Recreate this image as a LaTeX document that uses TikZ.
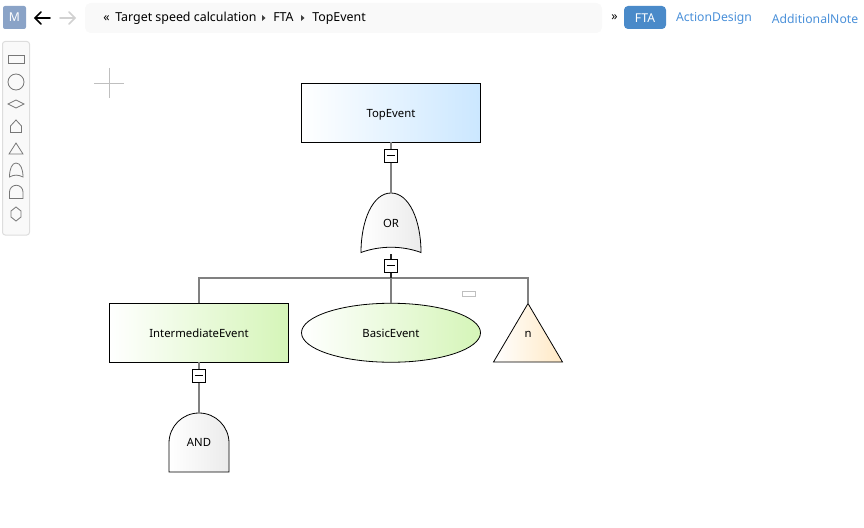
\documentclass[tikz,border=0pt]{standalone}
\usepackage{fontspec}
\setmainfont{Noto Sans}
\usetikzlibrary{calc}
\definecolor{linegray}{HTML}{808080}
\definecolor{iconline}{HTML}{777777}
\definecolor{panelbg}{HTML}{F9F9F9}
\definecolor{panelline}{HTML}{DDDDDD}
\definecolor{btnblue}{HTML}{4A8AC9}
\definecolor{linkblue}{HTML}{4A90D9}
\definecolor{mbtn}{HTML}{8AA3C7}
\definecolor{topfill}{HTML}{CBE7FF}
\definecolor{greenfill}{HTML}{D5F5B8}
\definecolor{orangefill}{HTML}{FFE8C4}
\definecolor{grayfill}{HTML}{EBEBEB}
\tikzset{
  x=0.75pt,y=-0.75pt,
  label text/.style={font=\fontsize{8.5pt}{11pt}\selectfont,text=black,inner sep=0pt,outer sep=0pt,text height=6.6pt,text depth=0pt},
  eventbox/.style={label text,draw=black,line width=0.75pt,minimum width=134.5pt,minimum height=44pt},
  topshade/.style={left color=white,right color=topfill},
  greenshade/.style={left color=white,right color=greenfill},
  gateshape/.style={draw=black,line width=0.6pt,left color=white,right color=grayfill},
  ghost/.style={label text,minimum width=45pt,minimum height=44.5pt},
  conn/.style={draw=linegray,line width=1.5pt},
  darkconn/.style={draw=black!85,line width=1.5pt},
  minusbox/.style={draw=black,fill=white,line width=0.75pt,minimum size=9.75pt,inner sep=0pt,
    path picture={\draw[black,line width=0.75pt] ($(path picture bounding box.west)+(1.6pt,0)$) -- ($(path picture bounding box.east)+(-1.6pt,0)$);}},
  icon/.style={draw=iconline,line width=0.6pt},
  crumb/.style={font=\fontsize{9.3pt}{12pt}\selectfont,text=black,inner sep=0pt,anchor=base west},
  tab/.style={font=\fontsize{9.15pt}{12pt}\selectfont,inner sep=0pt},
}
\begin{document}
\begin{tikzpicture}
\useasboundingbox (0,0) rectangle (864,528);
% header
\fill[mbtn,rounded corners=1.5pt] (3,6) rectangle (26,29);
\node[tab,text=white] (mlabel) at (14.5,17.5) {M};
\draw[black,line width=1.3pt,line cap=round] (35,18) -- (50,18) (41,12) -- (35,18) -- (41,24);
\draw[black!18,line width=1.3pt,line cap=round] (60,18) -- (75,18) (69,12) -- (75,18) -- (69,24);
\fill[panelbg,rounded corners=4pt] (85,3) rectangle (602,33);
\node[crumb] (c0) at (103,22) {«};
\node[crumb] (c1) at (115,22) {Target speed calculation};
\fill[black!75] (262,15) -- (265.5,18) -- (262,21) -- cycle;
\node[crumb] (c2) at (273,22) {FTA};
\fill[black!75] (301,15) -- (304.5,18) -- (301,21) -- cycle;
\node[crumb] (c3) at (312,22) {TopEvent};
\node[crumb] (c4) at (611,21) {»};
\fill[btnblue,rounded corners=3pt] (624,6) rectangle (666,29);
\node[tab,text=white] (tfta) at (645,18.5) {FTA};
\node[tab,text=linkblue] (tad) at (714,18.5) {ActionDesign};
\node[tab,text=linkblue] (tan) at (815,18.5) {AdditionalNote};
% palette
\draw[panelline,fill=panelbg,rounded corners=2pt,line width=0.75pt] (2.5,41.5) rectangle (29.5,235);
\draw[icon] (8,55.5) rectangle (24,63);
\draw[icon] (16,82) circle[radius=8];
\draw[icon] (8,104) -- (16,100) -- (24,104) -- (16,108) -- cycle;
\draw[icon] (10.5,132.5) -- (10.5,126) -- (16,120) -- (21.5,126) -- (21.5,132.5) -- cycle;
\draw[icon] (16,143) -- (23,154) -- (9,154) -- cycle;
\draw[icon] (16,163) .. controls (20.5,163) and (23,169) .. (23,177) .. controls (18,174.5) and (14,174.5) .. (9.5,177) .. controls (9.5,169) and (12,163) .. (16,163) -- cycle;
\draw[icon] (9.5,198.5) -- (9.5,192) arc[start angle=180,end angle=360,radius=6.75] -- (23,198.5) -- cycle;
\draw[icon] (16,207) -- (21,211) -- (21,217) -- (16,221) -- (11,217) -- (11,211) -- cycle;
% crosshair
\draw[black!25,line width=0.75pt] (94,83.5) -- (124,83.5) (109.5,68) -- (109.5,98);
% small handle
\draw[black!25,fill=white,line width=0.75pt] (462.5,291.5) rectangle (475.5,296.5);
% gates and events
\node[eventbox,topshade] (top) at (391,113) {TopEvent};
\shade[gateshape] (391,193) .. controls (409,193) and (421,220) .. (421,252.5) .. controls (402,245.5) and (380,245.5) .. (361,252.5) .. controls (361,220) and (373,193) .. (391,193) -- cycle;
\node[ghost] (orgate) at (391,223) {OR};
\node[eventbox,greenshade] (ie) at (199,332.75) {IntermediateEvent};
\shade[draw=black,line width=0.6pt,left color=white,right color=greenfill] (391,332.75) ellipse[x radius=89.5,y radius=29.5];
\node[label text,minimum width=134pt,minimum height=44pt] (basic) at (391,332.75) {BasicEvent};
\shade[draw=black,line width=0.6pt,left color=white,right color=orangefill] (528,303.5) -- (562.5,362) -- (493.5,362) -- cycle;
\node[label text,minimum width=52pt,minimum height=44pt] (transfer) at (528,332.75) {n};
\shade[gateshape] (169,472) -- (169,443) arc[start angle=180,end angle=360,radius=30] -- (229,472) -- cycle;
\node[ghost,minimum height=44.25pt] (andgate) at (199,442.5) {AND};
% connectors
\node[minusbox] (m1) at (391,155.5) {};
\node[minusbox] (m2) at (391,265.5) {};
\node[minusbox] (m3) at (199,375.5) {};
\coordinate (orout) at (391,254);
\coordinate (bus) at (391,278);
\draw[conn] (top.south) -- (m1.north);
\draw[conn] (m1.south) -- (orgate.north);
\draw[darkconn] (orout) -- (m2.north);
\draw[conn] (ie.north) |- (bus);
\draw[conn] (transfer.north) |- (bus);
\draw[conn] (bus) -- (basic.north);
\draw[darkconn] (m2.south) -- (bus);
\draw[conn] (ie.south) -- (m3.north);
\draw[conn] (m3.south) -- (andgate.north);
\end{tikzpicture}
\end{document}
